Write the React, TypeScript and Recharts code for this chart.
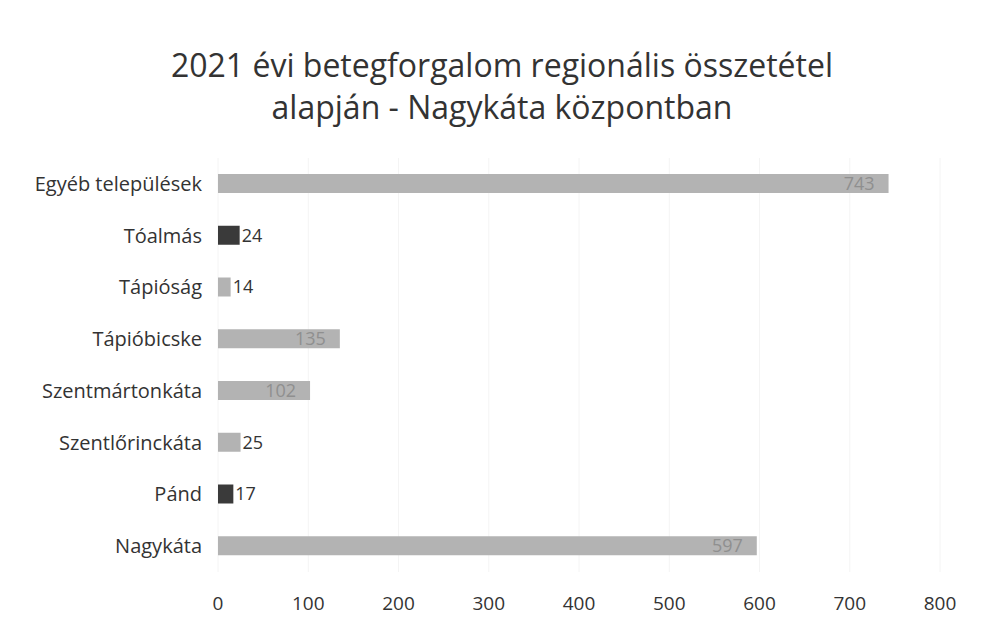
import React from 'react';
import { BarChart, Bar, XAxis, YAxis, CartesianGrid, Cell, LabelList } from 'recharts';

const categories = [
  'Egyéb települések',
  'Tóalmás',
  'Tápióság',
  'Tápióbicske',
  'Szentmártonkáta',
  'Szentlőrinckáta',
  'Pánd',
  'Nagykáta',
];
const patients = [743, 24, 14, 135, 102, 25, 17, 597];
const xTicks = [0, 100, 200, 300, 400, 500, 600, 700, 800];
const darkBars = ['Tóalmás', 'Pánd'];

const data = categories.map((name, i) => ({ name, value: patients[i] }));

const FONT = '"Open Sans", sans-serif';

// big bars get the number inside the bar end, small ones right after it
const ValueLabel = (props: any) => {
  const { x, y, width, height, value } = props;
  const cy = y + height / 2;
  if (value > 50) {
    return (
      <text x={x + width - 14} y={cy} dy="0.35em" textAnchor="end" fontSize={18} fill="#8f8f8f" fontFamily={FONT}>
        {value}
      </text>
    );
  }
  return (
    <text x={x + width + 2} y={cy} dy="0.35em" textAnchor="start" fontSize={18} fill="#333" fontFamily={FONT}>
      {value}
    </text>
  );
};

export default function App() {
  return (
    <div style={{ position: 'absolute', left: 0, top: 0, width: 981, height: 632, background: '#fff', fontFamily: FONT }}>
      <div
        style={{
          position: 'absolute',
          left: 0,
          top: 44,
          width: 1004,
          textAlign: 'center',
          fontSize: 32,
          lineHeight: '42px',
          color: '#333',
        }}
      >
        2021 évi betegforgalom regionális összetétel
        <br />
        alapján - Nagykáta központban
      </div>
      <BarChart
        width={981}
        height={632}
        data={data}
        layout="vertical"
        barSize={19}
        margin={{ top: 158, right: 41, bottom: 20, left: 0 }}
      >
        <CartesianGrid horizontal={false} stroke="#f4f4f4" />
        <XAxis
          type="number"
          domain={[0, 800]}
          ticks={xTicks}
          axisLine={false}
          tickLine={false}
          tickSize={0}
          tickMargin={25}
          height={40}
          tick={{ fontSize: 19, fill: '#333', fontFamily: FONT }}
        />
        <YAxis
          type="category"
          dataKey="name"
          width={218}
          axisLine={false}
          tickLine={false}
          tickSize={0}
          tickMargin={16}
          tick={{ fontSize: 20, fill: '#333', fontFamily: FONT }}
        />
        <Bar dataKey="value" isAnimationActive={false}>
          {data.map((d) => (
            <Cell key={d.name} fill={darkBars.includes(d.name) ? '#3a3a3a' : '#b3b3b3'} />
          ))}
          <LabelList dataKey="value" content={ValueLabel} />
        </Bar>
      </BarChart>
    </div>
  );
}
